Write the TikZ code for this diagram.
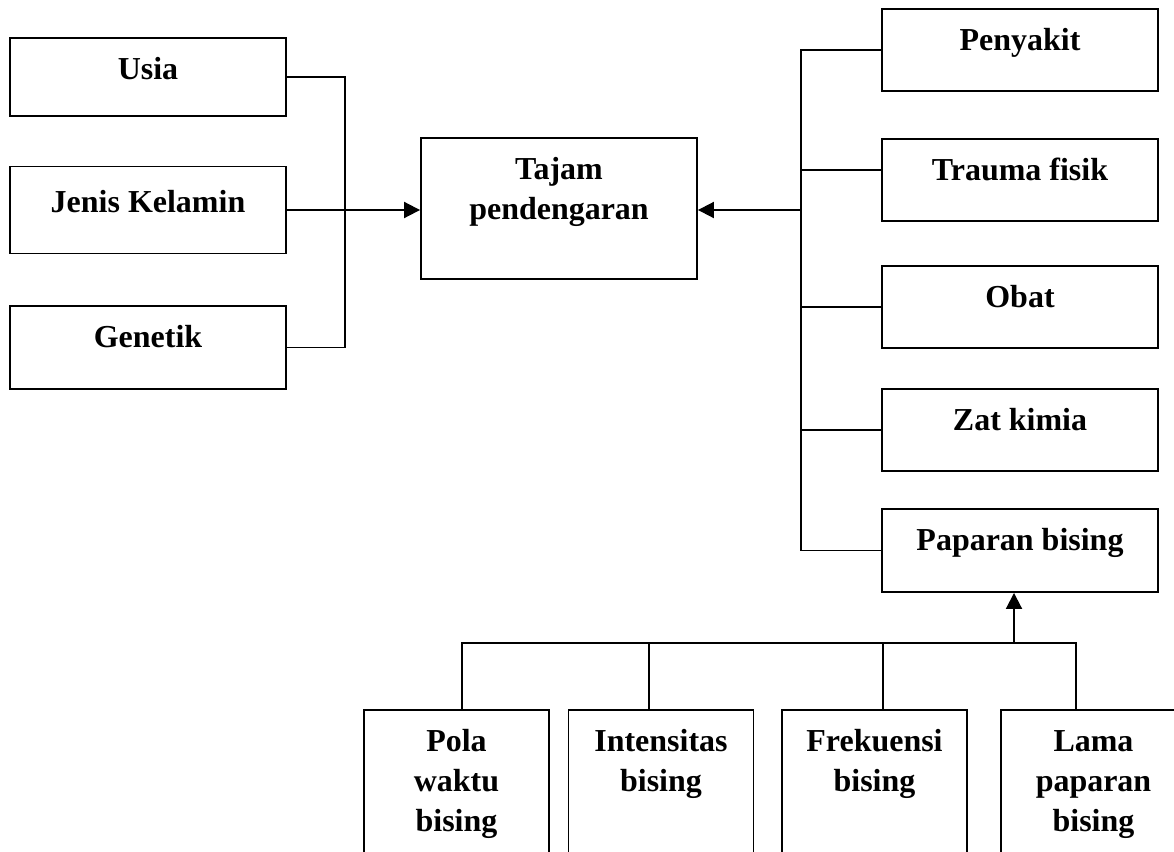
\documentclass[tikz,border=0pt]{standalone}
\usepackage{fontspec}
\setmainfont{Liberation Serif}
\usetikzlibrary{arrows.meta}
\begin{document}
\begin{tikzpicture}[x=0.02cm, y=-0.02cm, line width=1.1pt,
		box/.style={draw, rectangle, inner sep=0pt, minimum width=5.52cm},
		subbox/.style={draw, rectangle, inner sep=0pt, minimum width=3.7cm, minimum height=3.6cm},
		lbl/.style={font=\bfseries\fontsize{18.2pt}{22.8pt}\selectfont, align=center, inner sep=0pt, anchor=north},
		arr/.style={-{Triangle[length=0.32cm, width=0.32cm]}}]
		\useasboundingbox (0,0) rectangle (1174,852);
		\clip (0,0) rectangle (1174,852);

		\node[box, minimum height=1.56cm] (usia) at (148,77) {};
		\node[box, minimum height=1.74cm] (jenis) at (148,210) {};
		\node[box, minimum height=1.66cm] (genetik) at (148,347.5) {};
		\node[box, minimum height=2.82cm] (tajam) at (559,208.5) {};

		\node[box, minimum height=1.64cm] (penyakit) at (1020,50) {};
		\node[box, minimum height=1.64cm] (trauma) at (1020,180) {};
		\node[box, minimum height=1.64cm] (obat) at (1020,307) {};
		\node[box, minimum height=1.64cm] (zat) at (1020,430) {};
		\node[box, minimum height=1.66cm] (paparan) at (1020,550.5) {};

		\node[subbox] (pola) at (456.5,800) {};
		\node[subbox] (intens) at (661,800) {};
		\node[subbox] (frek) at (874.5,800) {};
		\node[subbox] (lama) at (1093.5,800) {};

		\node[lbl] (t-usia) at ([yshift=-0.26cm]usia.north) {\strut Usia};
		\node[lbl] (t-jenis) at ([yshift=-0.36cm]jenis.north) {\strut Jenis Kelamin};
		\node[lbl] (t-genetik) at ([yshift=-0.26cm]genetik.north) {\strut Genetik};
		\node[lbl] (t-tajam) at ([yshift=-0.26cm]tajam.north) {\strut Tajam\\pendengaran};
		\node[lbl] (t-penyakit) at ([yshift=-0.26cm]penyakit.north) {\strut Penyakit};
		\node[lbl] (t-trauma) at ([yshift=-0.26cm]trauma.north) {\strut Trauma fisik};
		\node[lbl] (t-obat) at ([yshift=-0.26cm]obat.north) {\strut Obat};
		\node[lbl] (t-zat) at ([yshift=-0.26cm]zat.north) {\strut Zat kimia};
		\node[lbl] (t-paparan) at ([yshift=-0.26cm]paparan.north) {\strut Paparan bising};
		\node[lbl] (t-pola) at ([yshift=-0.26cm]pola.north) {\strut Pola\\waktu\\bising};
		\node[lbl] (t-intens) at ([yshift=-0.26cm]intens.north) {\strut Intensitas\\bising};
		\node[lbl] (t-frek) at ([yshift=-0.26cm]frek.north) {\strut Frekuensi\\bising};
		\node[lbl] (t-lama) at ([yshift=-0.26cm]lama.north) {\strut Lama\\paparan\\bising};

		\coordinate (lbus) at (345,210);
		\draw (usia.east) -| (lbus) |- (genetik.east);
		\draw[arr] (jenis.east) -- (tajam.west |- jenis.east);

		\coordinate (rbus) at (801,210);
		\coordinate (trauma-in) at ([yshift=0.2cm]trauma.west);
		\draw (penyakit.west) -| (rbus) |- (paparan.west);
		\draw (trauma-in) -- (trauma-in -| rbus);
		\draw (obat.west) -- (obat.west -| rbus);
		\draw (zat.west) -- (zat.west -| rbus);
		\draw[arr] (rbus) -- (tajam.east |- rbus);

		\coordinate (bbus) at (1014,643);
		\coordinate (s-pola) at (462,643);
		\coordinate (s-intens) at (649,643);
		\coordinate (s-frek) at (883,643);
		\coordinate (s-lama) at (1076,643);
		\draw (s-pola |- pola.north) -- (s-pola) -- (s-lama) -- (s-lama |- lama.north);
		\draw (s-intens) -- (s-intens |- intens.north);
		\draw (s-frek) -- (s-frek |- frek.north);
		\draw[arr] (bbus) -- (bbus |- paparan.south);

	\end{tikzpicture}
\end{document}
